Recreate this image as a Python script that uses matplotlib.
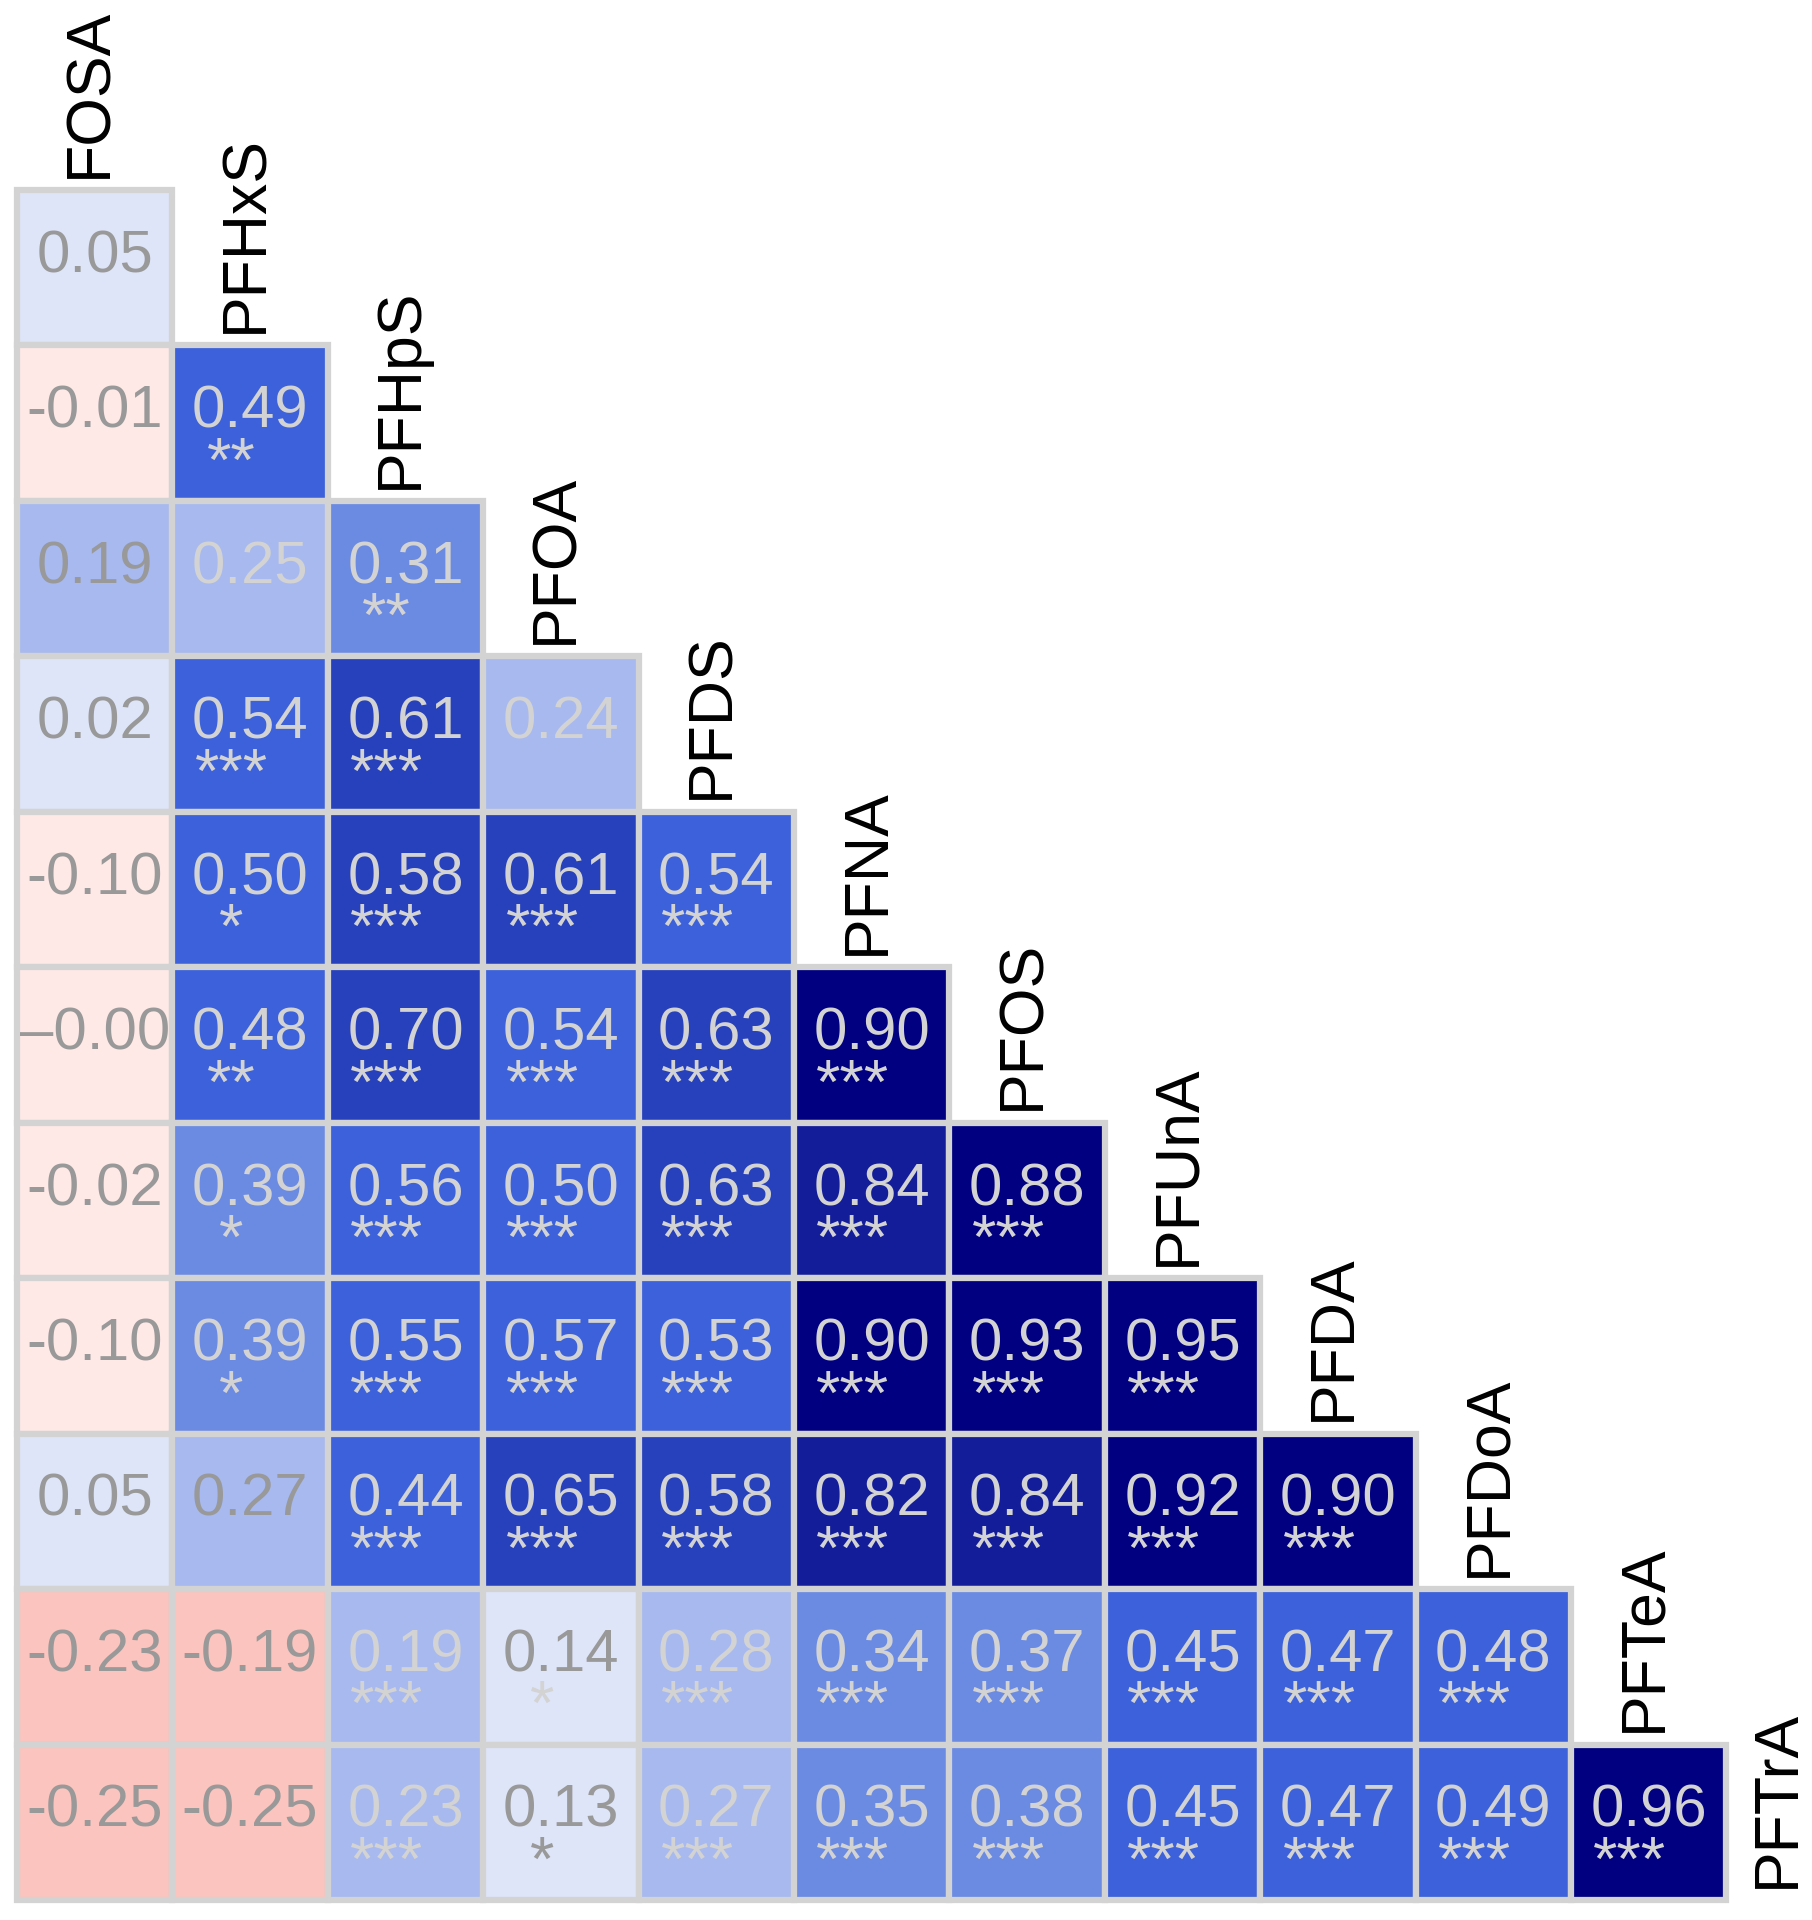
import matplotlib
matplotlib.use('Agg')
import matplotlib.pyplot as plt
from matplotlib.colors import ListedColormap, BoundaryNorm
from matplotlib.patches import Rectangle

plt.rcParams['font.family'] = ['Liberation Sans', 'DejaVu Sans']

variables = ["FOSA", "PFHxS", "PFHpS", "PFOA", "PFDS", "PFNA", "PFOS",
             "PFUnA", "PFDA", "PFDoA", "PFTeA", "PFTrA"]

# lower triangle: row k (variables[k]) against columns 0..k-1
corr = [
    [0.05],
    [-0.01, 0.49],
    [0.19, 0.25, 0.31],
    [0.02, 0.54, 0.61, 0.24],
    [-0.10, 0.50, 0.58, 0.61, 0.54],
    [-0.004, 0.48, 0.70, 0.54, 0.63, 0.90],   # shown as -0.00
    [-0.02, 0.39, 0.56, 0.50, 0.63, 0.84, 0.88],
    [-0.10, 0.39, 0.55, 0.57, 0.53, 0.90, 0.93, 0.95],
    [0.05, 0.27, 0.44, 0.65, 0.58, 0.82, 0.84, 0.92, 0.90],
    [-0.23, -0.19, 0.19, 0.14, 0.28, 0.34, 0.37, 0.45, 0.47, 0.48],
    [-0.25, -0.25, 0.23, 0.13, 0.27, 0.35, 0.38, 0.45, 0.47, 0.49, 0.96],
]

stars = [
    [""],
    ["", "**"],
    ["", "", "**"],
    ["", "***", "***", ""],
    ["", "*", "***", "***", "***"],
    ["", "**", "***", "***", "***", "***"],
    ["", "*", "***", "***", "***", "***", "***"],
    ["", "*", "***", "***", "***", "***", "***", "***"],
    ["", "", "***", "***", "***", "***", "***", "***", "***"],
    ["", "", "***", "*", "***", "***", "***", "***", "***", "***"],
    ["", "", "***", "*", "***", "***", "***", "***", "***", "***", "***"],
]

# cells whose numbers (and stars) are printed in the darker grey
dark_text = {(1, 0), (2, 0), (3, 0), (4, 0), (5, 0), (6, 0), (7, 0), (8, 0),
             (9, 0), (9, 1), (10, 0), (10, 1), (10, 3), (11, 0), (11, 1), (11, 3)}
dark_stars = {(11, 3)}

bounds = [-1, -0.15, 0, 0.15, 0.30, 0.42, 0.575, 0.75, 0.86, 1.0]
colors = ['#fbc4be', '#fee9e7', '#dfe5f8', '#a7b9ef', '#6b8ae2',
          '#3c61da', '#2740bb', '#131d9a', '#000080']
cmap = ListedColormap(colors)
norm = BoundaryNorm(bounds, cmap.N)

fig = plt.figure(figsize=(18.12, 19.2), dpi=100)
ax = fig.add_axes([0, 0, 1, 1])
ax.set_xlim(-0.109, 11.551)
ax.set_ylim(12.129, -0.2226)
ax.axis('off')

border = '#d3d3d3'
for r, row in enumerate(corr, start=1):
    for c, v in enumerate(row):
        z = 1 + 2 * c
        ax.add_patch(Rectangle((c, r), 1, 1, facecolor=cmap(norm(v)),
                               edgecolor=border, linewidth=4.5, zorder=z))
        label = f"{v:.2f}"
        if label == "-0.00":
            label = "\u20130.00"
        tc = '#999999' if (r, c) in dark_text else '#d3d3d3'
        ax.text(c + 0.5, r + 0.53, label, ha='center', va='baseline',
                fontsize=43, color=tc, zorder=z + 1)
        s = stars[r - 1][c]
        if s:
            sc = '#999999' if (r, c) in dark_stars else '#d3d3d3'
            ax.text(c + 0.38, r + 0.87, s, ha='center', va='baseline',
                    fontsize=45, color=sc, zorder=z + 1)

for k, name in enumerate(variables):
    ax.text(min(k + 0.47, 11.33), k + 0.92, name, rotation=90,
            ha='center', va='bottom', fontsize=45, color='black', zorder=50)

fig.savefig('out.png', dpi=100, facecolor='white')
